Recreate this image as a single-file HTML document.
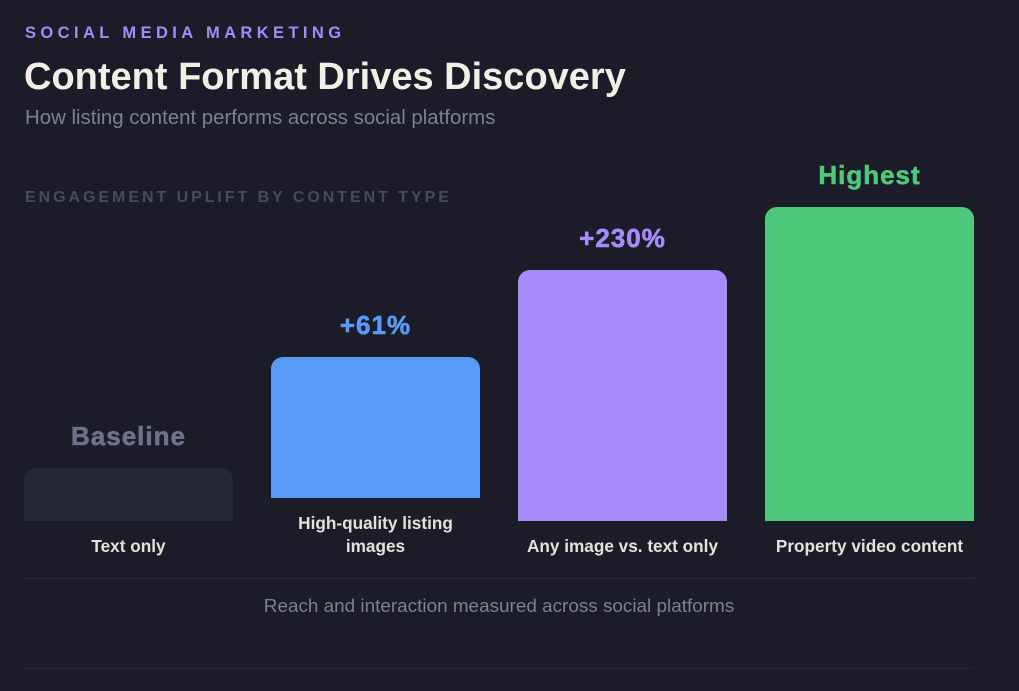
<!DOCTYPE html>
<html><head><meta charset="utf-8"><style>
body{margin:0;width:1019px;height:691px;background:#1b1c27;font-family:"Liberation Sans",sans-serif;overflow:hidden;position:relative}
.a{position:absolute;white-space:nowrap}
</style></head><body>
<div class="a" style="left:25px;top:24px;font-size:16.5px;font-weight:bold;letter-spacing:4.4px;color:#a78bfa">SOCIAL MEDIA MARKETING</div>
<div class="a" style="left:24px;top:56px;font-size:38px;font-weight:bold;color:#f3efe6">Content Format Drives Discovery</div>
<div class="a" style="left:25px;top:107px;font-size:20.4px;color:#7d8094">How listing content performs across social platforms</div>
<div class="a" style="left:25px;top:189px;font-size:16px;font-weight:bold;letter-spacing:2.95px;color:#484b5c">ENGAGEMENT UPLIFT BY CONTENT TYPE</div>
<div id="chart"></div>
<div class="a" style="left:24px;top:578px;width:950px;height:1px;background:#2a2c38"></div>
<div class="a" style="left:24px;width:950px;text-align:center;top:596px;font-size:18.9px;color:#7d8094">Reach and interaction measured across social platforms</div>
<div class="a" style="left:24px;top:668px;width:950px;height:1px;background:#252733"></div>
<script>
const categories=[["Text only"],["High-quality listing","images"],["Any image vs. text only"],["Property video content"]];
const values=[17,45,80,100];
const valueLabels=["Baseline","+61%","+230%","Highest"];
const colors=["#252735","#589bf6","#a78bfa","#4ec87a"];
const labelColors=["#6f7389","#589bf6","#a78bfa","#4ec87a"];
const chart=document.getElementById('chart');
const x0=24,bw=209,gap=38,maxH=314,base=521;
function yScale(v){return v/100*maxH;}
values.forEach((v,i)=>{
  const lines=categories[i].length;
  const bottom=base-(lines-1)*23;
  const h=yScale(v);
  const left=x0+i*(bw+gap);
  const bar=document.createElement('div');
  
  
  bar.className='a';
  bar.style.cssText=`left:${left}px;top:${bottom-h}px;width:${bw}px;height:${h}px;background:${colors[i]};border-radius:12px 12px 0 0`;
  chart.appendChild(bar);
  const vl=document.createElement('div');
  
  
  vl.className='a';
  vl.style.cssText=`left:${left}px;width:${bw}px;text-align:center;top:${bottom-h-47}px;font-size:26px;font-weight:bold;letter-spacing:1px;-webkit-text-stroke:0.6px ${labelColors[i]};color:${labelColors[i]}`;
  vl.textContent=valueLabels[i];
  chart.appendChild(vl);
  const cl=document.createElement('div');
  
  
  cl.className='a';
  cl.style.cssText=`left:${left}px;width:${bw}px;text-align:center;top:${bottom+14}px;font-size:17.2px;font-weight:bold;line-height:23px;color:#e6e2da`;
  cl.innerHTML=categories[i].join('<br>');
  chart.appendChild(cl);
});
</script>
</body></html>
